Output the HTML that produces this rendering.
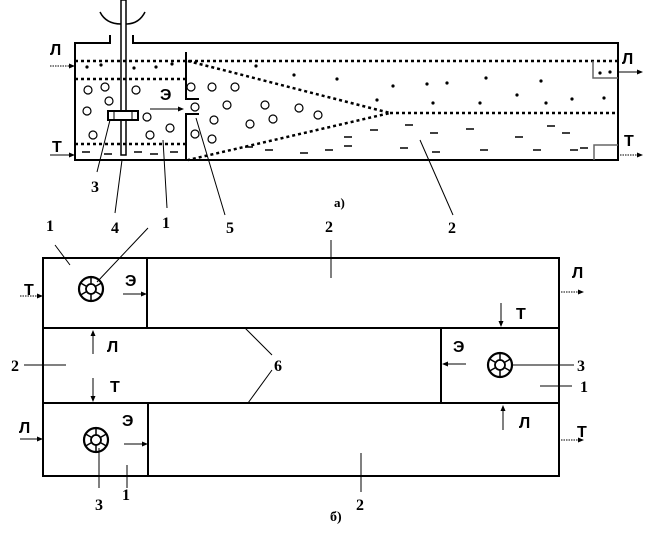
<!DOCTYPE html>
<html><head><meta charset="utf-8"><style>
html,body{margin:0;padding:0;background:#fff;}
svg{display:block;}
text{font-family:"Liberation Sans",sans-serif;font-weight:bold;fill:#000;}
.s{font-family:"Liberation Serif",serif;}
</style></head><body>
<svg width="648" height="541" viewBox="0 0 648 541" xmlns="http://www.w3.org/2000/svg">
<defs>
<marker id="a" markerWidth="6" markerHeight="6" refX="5" refY="3" orient="auto"><path d="M0,0.5 L6,3 L0,5.5z" fill="#000"/></marker>
<g id="imp">
<circle r="12" fill="none" stroke="#000" stroke-width="2.2"/>
<circle r="5" fill="none" stroke="#000" stroke-width="1.8"/>
<path d="M0,-5V-12M0,5V12M4.3,-2.5L10.4,-6M-4.3,-2.5L-10.4,-6M4.3,2.5L10.4,6M-4.3,2.5L-10.4,6" stroke="#000" stroke-width="1.5"/>
</g>
</defs>
<!-- TOP DIAGRAM -->
<g fill="none" stroke="#000">
<path d="M110,35V43H75V160H618V43H133V35" stroke-width="2"/>
<path d="M100,12 Q106,24 121,24 M145,12 Q139,24 126,24" stroke-width="1.5"/>
<rect x="121" y="0" width="5" height="155" fill="#fff" stroke-width="1.5"/>
<rect x="108" y="111" width="30" height="9" fill="#fff" stroke-width="2"/>
<path d="M114,111V120M132,111V120" stroke-width="1"/>
<path d="M186,52V99H199M186,160V114H199" stroke-width="2"/>
<g stroke-dasharray="3,3" stroke-width="2.5">
<path d="M75,61H618M75,79H186M75,144H186M390,113H618"/>
<path d="M188,61L390,113L188,160"/>
</g>
<path d="M593,61V78H618M594,160V145H618" stroke="#666" stroke-width="1.5"/>
<g stroke-width="1.2">
<circle cx="88" cy="90" r="4"/><circle cx="105" cy="87" r="4"/><circle cx="136" cy="90" r="4"/><circle cx="109" cy="101" r="4"/><circle cx="87" cy="111" r="4"/><circle cx="147" cy="117" r="4"/><circle cx="93" cy="135" r="4"/><circle cx="150" cy="135" r="4"/><circle cx="170" cy="128" r="4"/><circle cx="191" cy="87" r="4"/><circle cx="212" cy="87" r="4"/><circle cx="235" cy="87" r="4"/><circle cx="195" cy="107" r="4"/><circle cx="227" cy="105" r="4"/><circle cx="265" cy="105" r="4"/><circle cx="299" cy="108" r="4"/><circle cx="318" cy="115" r="4"/><circle cx="214" cy="120" r="4"/><circle cx="250" cy="124" r="4"/><circle cx="273" cy="119" r="4"/><circle cx="195" cy="134" r="4"/><circle cx="212" cy="139" r="4"/>
</g>
<g stroke-width="1.5">
<path d="M82,152h8M104,154h8M134,152h8M150,154h8M170,152h8M405,125h8M430,133h8M466,129h8M515,137h8M547,126h8M562,133h8M580,148h8M432,152h8M370,130h8M344,137h8M400,148h8M480,150h8M533,150h8M570,150h8M300,153h8M325,150h8M344,146h8M265,150h8M245,147h8"/>
</g>
</g>
<g fill="#000">
<circle cx="87" cy="67" r="1.6"/><circle cx="101" cy="65" r="1.6"/><circle cx="134" cy="68" r="1.6"/><circle cx="156" cy="67" r="1.6"/><circle cx="172" cy="64" r="1.6"/><circle cx="256" cy="66" r="1.6"/><circle cx="294" cy="75" r="1.6"/><circle cx="337" cy="79" r="1.6"/><circle cx="393" cy="86" r="1.6"/><circle cx="427" cy="84" r="1.6"/><circle cx="447" cy="83" r="1.6"/><circle cx="486" cy="78" r="1.6"/><circle cx="541" cy="81" r="1.6"/><circle cx="377" cy="100" r="1.6"/><circle cx="433" cy="103" r="1.6"/><circle cx="480" cy="103" r="1.6"/><circle cx="517" cy="95" r="1.6"/><circle cx="546" cy="103" r="1.6"/><circle cx="572" cy="99" r="1.6"/><circle cx="604" cy="98" r="1.6"/><circle cx="600" cy="73" r="1.6"/><circle cx="610" cy="72" r="1.6"/>
</g>
<g stroke="#000" stroke-width="1" fill="none">
<path d="M50,66H74" stroke-dasharray="1.5,1" marker-end="url(#a)"/>
<path d="M50,155H74" marker-end="url(#a)"/>
<path d="M150,109H183" marker-end="url(#a)"/>
<path d="M618,72H642" marker-end="url(#a)"/>
<path d="M620,155H642" stroke-dasharray="1.5,1" marker-end="url(#a)"/>
<path d="M97,172L110,120M115,213L122,160M167,208L163,140M225,215L196,118M453,215L420,140"/>
</g>
<text x="50" y="55" font-size="16">Л</text>
<text x="52" y="152" font-size="16">Т</text>
<text x="160" y="100" font-size="16">Э</text>
<text x="622" y="64" font-size="16">Л</text>
<text x="624" y="146" font-size="16">Т</text>
<text class="s" x="91" y="192" font-size="16">3</text>
<text class="s" x="111" y="233" font-size="16">4</text>
<text class="s" x="162" y="228" font-size="16">1</text>
<text class="s" x="226" y="233" font-size="16">5</text>
<text class="s" x="448" y="233" font-size="16">2</text>
<text class="s" x="334" y="207" font-size="13">а)</text>
<!-- BOTTOM DIAGRAM -->
<g fill="none" stroke="#000" stroke-width="2">
<rect x="43" y="258" width="516" height="218"/>
<path d="M43,328H559M43,403H559M147,258V328M148,403V476M441,328V403"/>
</g>
<use href="#imp" x="91" y="289"/>
<use href="#imp" x="96" y="440"/>
<use href="#imp" x="500" y="365"/>
<g stroke="#000" stroke-width="1" fill="none">
<path d="M20,296H42" stroke-dasharray="1.5,1" marker-end="url(#a)"/>
<path d="M20,439H42" marker-end="url(#a)"/>
<path d="M123,294H146" marker-end="url(#a)"/>
<path d="M124,444H147" marker-end="url(#a)"/>
<path d="M93,354V331" marker-end="url(#a)"/>
<path d="M93,378V401" marker-end="url(#a)"/>
<path d="M466,364H443" marker-end="url(#a)"/>
<path d="M501,303V326" marker-end="url(#a)"/>
<path d="M503,430V406" marker-end="url(#a)"/>
<path d="M561,292H583" stroke-dasharray="1.5,1" marker-end="url(#a)"/>
<path d="M561,440H583" stroke-dasharray="1.5,1" marker-end="url(#a)"/>
<path d="M55,245L70,265M148,228L97,282M24,365H66M245,328L272,355M272,370L248,403M99,448V488M127,465V488M512,365H574M540,386H572M361,453V492M331,240V278"/>
</g>
<text x="24" y="295" font-size="16">Т</text>
<text x="19" y="433" font-size="16">Л</text>
<text x="125" y="286" font-size="16">Э</text>
<text x="122" y="426" font-size="16">Э</text>
<text x="107" y="352" font-size="16">Л</text>
<text x="110" y="392" font-size="16">Т</text>
<text x="453" y="352" font-size="16">Э</text>
<text x="516" y="319" font-size="16">Т</text>
<text x="519" y="428" font-size="16">Л</text>
<text x="572" y="278" font-size="16">Л</text>
<text x="577" y="437" font-size="16">Т</text>
<text class="s" x="46" y="231" font-size="16">1</text>
<text class="s" x="325" y="232" font-size="16">2</text>
<text class="s" x="11" y="371" font-size="16">2</text>
<text class="s" x="274" y="371" font-size="16">6</text>
<text class="s" x="577" y="371" font-size="16">3</text>
<text class="s" x="580" y="392" font-size="16">1</text>
<text class="s" x="95" y="510" font-size="16">3</text>
<text class="s" x="122" y="500" font-size="16">1</text>
<text class="s" x="356" y="510" font-size="16">2</text>
<text class="s" x="330" y="521" font-size="14">б)</text>
</svg>
</body></html>
